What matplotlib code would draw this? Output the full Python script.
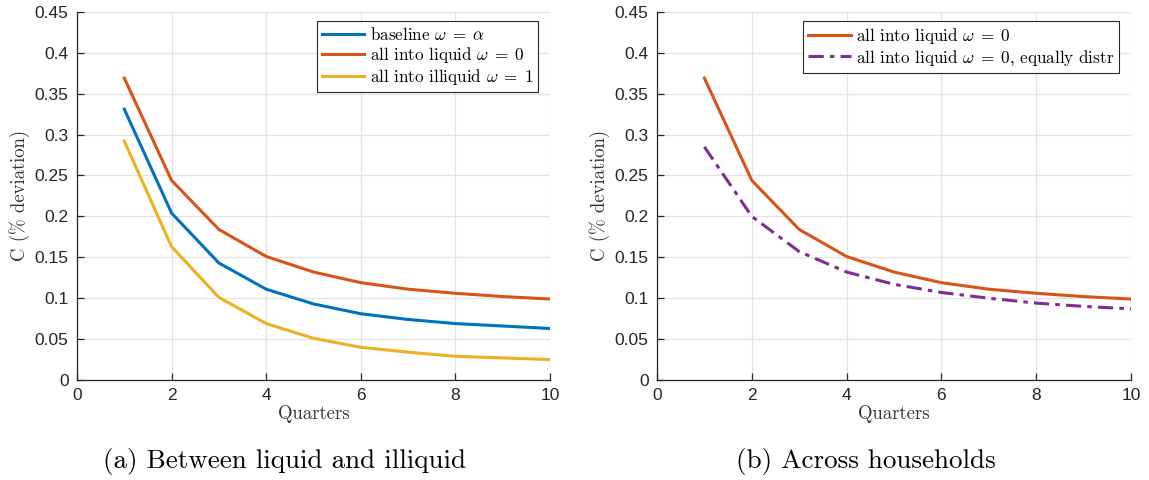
import matplotlib
matplotlib.use("Agg")
import matplotlib.pyplot as plt
from matplotlib.ticker import FuncFormatter
import numpy as np

# data
quarters = [1, 2, 3, 4, 5, 6, 7, 8, 9, 10]
baseline = [0.331, 0.204, 0.143, 0.111, 0.093, 0.081, 0.074, 0.069, 0.066, 0.063]
liquid = [0.369, 0.244, 0.184, 0.151, 0.132, 0.119, 0.111, 0.106, 0.102, 0.099]
illiquid = [0.292, 0.163, 0.101, 0.069, 0.051, 0.040, 0.034, 0.029, 0.027, 0.025]
liquid_equal = [0.285, 0.200, 0.157, 0.132, 0.117, 0.107, 0.100, 0.094, 0.090, 0.087]

xticks = [0, 2, 4, 6, 8, 10]
yticks = [0, 0.05, 0.1, 0.15, 0.2, 0.25, 0.3, 0.35, 0.4, 0.45]

blue = "#0072BD"
red = "#D95319"
yellow = "#EDB120"
purple = "#7E2F8E"

plt.rcParams["mathtext.fontset"] = "cm"
plt.rcParams["axes.unicode_minus"] = False
serif = "cmr10"
tickfont = "Liberation Sans"

fig = plt.figure(figsize=(11.49, 4.8), dpi=100)
ax1 = fig.add_axes([0.067, 0.2083, 0.4117, 0.767])
ax2 = fig.add_axes([0.5718, 0.2083, 0.4125, 0.767])

def style(ax):
    ax.set_xlim(0, 10)
    ax.set_ylim(0, 0.45)
    ax.set_xticks(xticks)
    ax.set_yticks(yticks)
    ax.yaxis.set_major_formatter(FuncFormatter(lambda v, p: "%g" % round(v, 4)))
    ax.grid(True, color="#e3e3e3", lw=0.9)
    ax.set_axisbelow(True)
    for s in ["top", "right"]:
        ax.spines[s].set_visible(False)
    for s in ["left", "bottom"]:
        ax.spines[s].set_color("#262626")
        ax.spines[s].set_linewidth(0.9)
    ax.tick_params(direction="in", length=5, width=0.9, colors="#262626",
                   labelsize=12.5, pad=6)
    for lab in ax.get_xticklabels() + ax.get_yticklabels():
        lab.set_fontfamily(tickfont)
    ax.set_xlabel("Quarters", fontfamily=serif, fontsize=13.5, color="#333333", labelpad=1)
    ax.set_ylabel("C (% deviation)", fontfamily=serif, fontsize=13.5, color="#333333", labelpad=3)

style(ax1)
ax1.plot(quarters, baseline, color=blue, lw=2.2, label=r"baseline $\omega \;=\; \alpha$")
ax1.plot(quarters, liquid, color=red, lw=2.2, label=r"all into liquid $\omega \;=\; 0$")
ax1.plot(quarters, illiquid, color=yellow, lw=2.2, label=r"all into illiquid $\omega \;=\; 1$")
leg1 = ax1.legend(loc="upper right", bbox_to_anchor=(0.975, 0.975), fancybox=False,
                  framealpha=1, edgecolor="#262626", borderpad=0.3, handlelength=2.5,
                  handletextpad=0.3, labelspacing=0.1, borderaxespad=0,
                  prop={"family": serif, "size": 12.3})
leg1.get_frame().set_linewidth(0.8)

style(ax2)
ax2.plot(quarters, liquid, color=red, lw=2.2, label=r"all into liquid $\omega \;=\; 0$")
ax2.plot(quarters, liquid_equal, color=purple, lw=2.2, linestyle=(0, (5, 2, 1.5, 2)),
         label=r"all into liquid $\omega \;=\; 0$, equally distr")
leg2 = ax2.legend(loc="upper right", bbox_to_anchor=(0.975, 0.975), fancybox=False,
                  framealpha=1, edgecolor="#262626", borderpad=0.3, handlelength=2.5,
                  handletextpad=0.3, labelspacing=0.1, borderaxespad=0,
                  prop={"family": serif, "size": 12.3})
leg2.get_frame().set_linewidth(0.8)

fig.text(0.248, 0.038, "(a) Between liquid and illiquid", fontfamily=serif,
         fontsize=19.5, ha="center", va="center")
fig.text(0.754, 0.038, "(b) Across households", fontfamily=serif,
         fontsize=19.5, ha="center", va="center")

fig.savefig("out.png", dpi=100)
